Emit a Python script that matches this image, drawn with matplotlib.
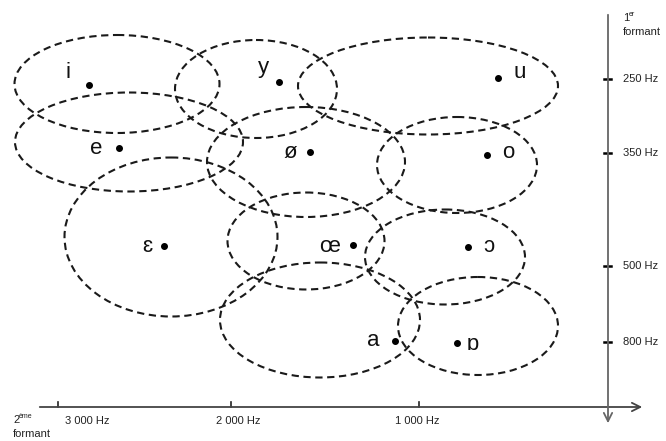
import matplotlib.pyplot as plt
from matplotlib.patches import Ellipse

plt.rcParams['font.family'] = ['Liberation Sans', 'DejaVu Sans']

# vowel zones on the chart plane (x = 2nd formant side, y = 1st formant side)
vowels = ['i', 'y', 'u', 'e', 'ø', 'o', 'ɛ', 'œ', 'ɔ', 'a', 'ɒ']
zone_x = [117, 256, 428, 129, 306, 457, 171, 306, 445, 320, 478]
zone_y = [84, 89, 86, 142, 162, 165, 237, 241, 257, 320, 326]
zone_w = [205, 162, 260, 228, 198, 160, 213, 157, 160, 200, 160]
zone_h = [98, 98, 97, 99, 110, 96, 159, 97, 95, 115, 98]
dot_x = [89, 279, 498, 119, 310, 487, 164, 353, 468, 395, 457]
dot_y = [85, 82, 78, 148, 152, 155, 246, 245, 247, 341, 343]
label_x = [68, 263, 520, 96, 290, 508, 147, 330, 489, 373, 473]
label_y = [73, 68, 72, 148, 152, 152, 246, 246, 247, 340, 344]

f1_labels = ['250 Hz', '350 Hz', '500 Hz', '800 Hz']
f1_pos = [79, 153, 266, 342]
f2_labels = ['3 000 Hz', '2 000 Hz', '1 000 Hz']
f2_pos = [58, 231, 419]
f2_label_pos = [87, 238, 417]

fig = plt.figure(figsize=(6.66, 4.41), dpi=100)
ax = fig.add_axes([0, 0, 1, 1])
ax.set_xlim(0, 666)
ax.set_ylim(441, 0)
ax.axis('off')

for x, y, w, h in zip(zone_x, zone_y, zone_w, zone_h):
    ax.add_patch(Ellipse((x, y), w, h, fill=False, edgecolor='#1a1a1a',
                         linewidth=1.5, linestyle=(0, (3.5, 2.2))))

ax.plot(dot_x, dot_y, 'o', color='black', markersize=4)
for v, x, y in zip(vowels, label_x, label_y):
    ax.text(x, y, v, fontsize=16, ha='center', va='center', color='#111111')

# axes with arrows
ax.annotate('', xy=(645, 407), xytext=(37, 407),
            arrowprops=dict(arrowstyle='->,head_length=0.6,head_width=0.3',
                            color='#444444', lw=1.3))
ax.annotate('', xy=(608, 426), xytext=(608, 12),
            arrowprops=dict(arrowstyle='->,head_length=0.6,head_width=0.3',
                            color='#666666', lw=1.3))

for y, lab in zip(f1_pos, f1_labels):
    ax.plot([604, 611], [y, y], color='black', lw=1.8)
    ax.text(623, y, lab, fontsize=8, ha='left', va='center', color='#222222')
ax.text(623, 18, '1', fontsize=8, ha='left', va='center', color='#222222')
ax.text(629, 14, 'er', fontsize=5, ha='left', va='center', color='#222222')
ax.text(623, 32, 'formant', fontsize=8, ha='left', va='center', color='#222222')

for x, lx, lab in zip(f2_pos, f2_label_pos, f2_labels):
    ax.plot([x, x], [402, 407], color='#222222', lw=1.2)
    ax.text(lx, 421, lab, fontsize=8, ha='center', va='center', color='#222222')
ax.text(13, 420, '2', fontsize=8, ha='left', va='center', color='#222222')
ax.text(19, 416, 'ème', fontsize=5, ha='left', va='center', color='#222222')
ax.text(13, 434, 'formant', fontsize=8, ha='left', va='center', color='#222222')

fig.savefig('out.png', dpi=100)
